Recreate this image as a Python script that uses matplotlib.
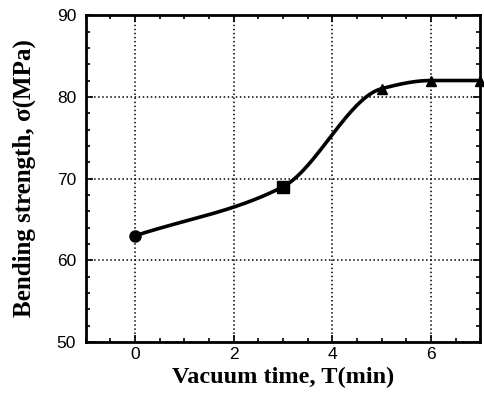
import matplotlib
matplotlib.use('Agg')
import matplotlib.pyplot as plt
import numpy as np
from matplotlib.ticker import MultipleLocator

# Data
vacuum_time = [0, 3, 5, 6, 7]
strength = [63, 69, 81, 82, 82]
markers = ['o', 's', '^', '^', '^']


def monotone_curve(x, y, n=60):
    # Fritsch-Carlson monotone cubic, only used to draw the smooth line
    x = np.asarray(x, float)
    y = np.asarray(y, float)
    h = np.diff(x)
    d = np.diff(y) / h
    m = np.zeros_like(y)
    m[0], m[-1] = d[0], d[-1]
    for i in range(1, len(x) - 1):
        if d[i - 1] * d[i] <= 0:
            m[i] = 0
        else:
            w1 = 2 * h[i] + h[i - 1]
            w2 = h[i] + 2 * h[i - 1]
            m[i] = (w1 + w2) / (w1 / d[i - 1] + w2 / d[i])
    xs, ys = [], []
    for i in range(len(x) - 1):
        t = np.linspace(0, 1, n)
        h00 = 2 * t**3 - 3 * t**2 + 1
        h10 = t**3 - 2 * t**2 + t
        h01 = -2 * t**3 + 3 * t**2
        h11 = t**3 - t**2
        xs.append(x[i] + t * h[i])
        ys.append(h00 * y[i] + h10 * h[i] * m[i] + h01 * y[i + 1] + h11 * h[i] * m[i + 1])
    return np.concatenate(xs), np.concatenate(ys)


fig = plt.figure(figsize=(4.85, 3.99), dpi=100)
ax = fig.add_axes([0.177, 0.143, 0.813, 0.819])

cx, cy = monotone_curve(vacuum_time, strength)
ax.plot(cx, cy, color='black', lw=2.6, clip_on=False, zorder=3)
for x, y, mk in zip(vacuum_time, strength, markers):
    ax.plot(x, y, marker=mk, color='black', ms=8 if mk != '^' else 7, clip_on=False, zorder=4)

ax.set_xlim(-1, 7)
ax.set_ylim(50, 90)
ax.xaxis.set_major_locator(MultipleLocator(2))
ax.xaxis.set_minor_locator(MultipleLocator(0.5))
ax.yaxis.set_major_locator(MultipleLocator(10))
ax.yaxis.set_minor_locator(MultipleLocator(2))
ax.tick_params(which='both', direction='in', top=True, right=True, width=1.2)
ax.tick_params(which='major', length=5, labelsize=12.5)
ax.tick_params(axis='x', which='major', pad=4)
ax.tick_params(axis='y', which='major', pad=7)
ax.tick_params(which='minor', length=3)
for lab in ax.get_xticklabels() + ax.get_yticklabels():
    lab.set_fontfamily('Liberation Sans')
ax.grid(True, which='major', linestyle=':', color='black', lw=1.1)
for s in ax.spines.values():
    s.set_linewidth(2)

ax.set_xlabel('Vacuum time, T(min)', fontsize=17.5, fontweight='bold', family='Liberation Serif', labelpad=3)
ax.set_ylabel('Bending strength, σ(MPa)', fontsize=18, fontweight='bold', family='Liberation Serif', labelpad=15)

plt.savefig('out.png', dpi=100)
